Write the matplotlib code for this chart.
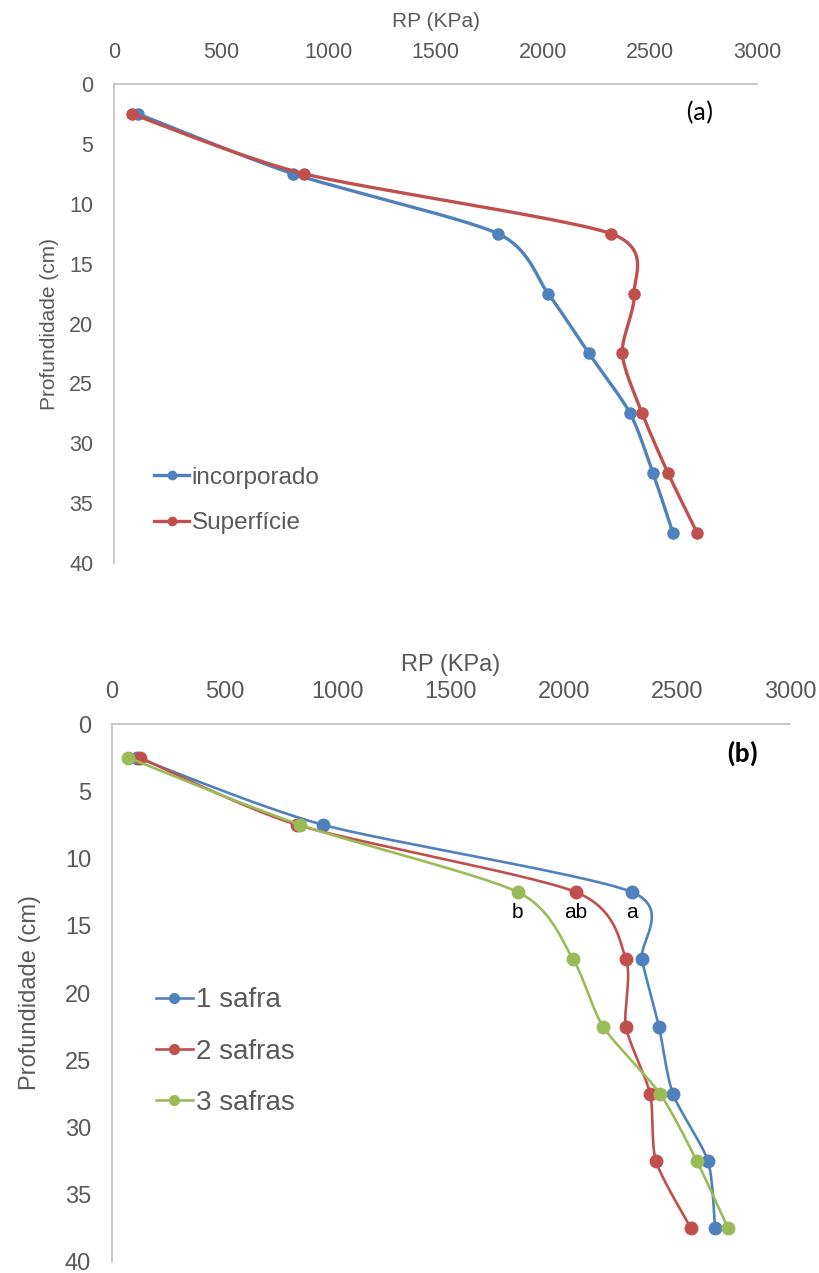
import numpy as np
import matplotlib
matplotlib.use("Agg")
import matplotlib.pyplot as plt
from matplotlib.lines import Line2D

# ---------------- data ----------------
depth = [2.5, 7.5, 12.5, 17.5, 22.5, 27.5, 32.5, 37.5]

# panel (a)
incorporado = [112, 835, 1792, 2025, 2216, 2408, 2515, 2608]
superficie = [84, 887, 2319, 2427, 2371, 2464, 2585, 2721]

# panel (b)
safra1 = [111, 934, 2301, 2345, 2420, 2482, 2637, 2668]
safra2 = [124, 819, 2053, 2274, 2274, 2381, 2407, 2562]
safra3 = [71, 832, 1796, 2040, 2173, 2425, 2588, 2726]

labels_a = ["incorporado", "Superfície"]
labels_b = ["1 safra", "2 safras", "3 safras"]
letters_b = ["a", "ab", "b"]          # letters at depth 12.5 for 1,2,3 safras

xticks = [0, 500, 1000, 1500, 2000, 2500, 3000]
yticks = [0, 5, 10, 15, 20, 25, 30, 35, 40]

BLUE = "#4F81BD"
RED = "#C0504D"
GREEN = "#9BBB59"
TXT = "#595959"
SPINE = "#BFBFBF"

plt.rcParams["font.family"] = ["Liberation Sans", "DejaVu Sans"]

W, H = 819, 1273
fig = plt.figure(figsize=(W / 100, H / 100), dpi=100)


def px_axes(l, t, r, b):
    return fig.add_axes([l / W, 1 - b / H, (r - l) / W, (b - t) / H])


def smooth(ax, xs, ys, n=30, k=8.0):
    """Excel-like smoothed curve (cubic Bezier, computed in display space)."""
    pts = ax.transData.transform(np.column_stack([xs, ys]))
    out = [pts[0]]
    m = len(pts)
    for i in range(m - 1):
        p0 = pts[i - 1] if i > 0 else pts[i]
        p1 = pts[i]
        p2 = pts[i + 1]
        p3 = pts[i + 2] if i + 2 < m else pts[i + 1]
        c1 = p1 + (p2 - p0) / k
        c2 = p2 - (p3 - p1) / k
        t = np.linspace(0, 1, n)[1:, None]
        seg = ((1 - t) ** 3) * p1 + 3 * ((1 - t) ** 2) * t * c1 + 3 * (1 - t) * t ** 2 * c2 + t ** 3 * p2
        out.extend(seg)
    out = np.array(out)
    data = ax.transData.inverted().transform(out)
    return data[:, 0], data[:, 1]


def setup(ax, fs_tick, fs_label, xpad_label, ypad_label):
    ax.set_xlim(0, 3000)
    ax.set_ylim(40, 0)
    ax.xaxis.tick_top()
    ax.xaxis.set_label_position("top")
    ax.set_xticks(xticks)
    ax.set_yticks(yticks)
    ax.tick_params(length=0, labelsize=fs_tick, labelcolor=TXT, pad=15)
    for s in ["right", "bottom"]:
        ax.spines[s].set_visible(False)
    for s in ["top", "left"]:
        ax.spines[s].set_color(SPINE)
        ax.spines[s].set_linewidth(1.2)
    ax.set_xlabel("RP (KPa)", fontsize=fs_label, color=TXT, labelpad=xpad_label)
    ax.set_ylabel("Profundidade (cm)", fontsize=fs_label, color=TXT, labelpad=ypad_label)


# ---------------- panel (a) ----------------
axa = px_axes(114, 84, 757, 563)
setup(axa, 15.5, 15, 11, 7)
handles = []
for vals, col, lab in [(incorporado, BLUE, labels_a[0]), (superficie, RED, labels_a[1])]:
    sx, sy = smooth(axa, vals, depth)
    axa.plot(sx, sy, color=col, lw=2.4, solid_capstyle="round")
    axa.plot(vals, depth, "o", color=col, ms=8)
    handles.append(Line2D([], [], color=col, lw=2.4, marker="o", ms=6))
axa.legend(handles, labels_a, loc="upper left", bbox_to_anchor=(0.047, 0.221),
           frameon=False, fontsize=17.5, labelcolor=TXT, handlelength=1.45,
           handletextpad=0.1, labelspacing=0.97, borderaxespad=0)
axa.text(0.911, 0.94, "(a)", transform=axa.transAxes, fontsize=19,
         family=["Carlito", "Liberation Sans", "DejaVu Sans"], color="black",
         ha="center", va="center")

# ---------------- panel (b) ----------------
axb = px_axes(112, 724, 790, 1262)
setup(axb, 17, 17, 7, 17)
handles = []
series_b = [(safra1, BLUE), (safra2, RED), (safra3, GREEN)]
for (vals, col), lab in zip(series_b, labels_b):
    sx, sy = smooth(axb, vals, depth)
    axb.plot(sx, sy, color=col, lw=1.9)
    axb.plot(vals, depth, "o", color=col, ms=9)
    handles.append(Line2D([], [], color=col, lw=1.9, marker="o", ms=7))
axb.legend(handles, labels_b, loc="upper left", bbox_to_anchor=(0.048, 0.531),
           frameon=False, fontsize=20, labelcolor=TXT, handlelength=1.35,
           handletextpad=0.1, labelspacing=0.91, borderaxespad=0)
for (vals, col), let in zip(series_b, letters_b):
    axb.annotate(let, (vals[2], depth[2]), xytext=(0, -15), textcoords="offset points",
                 ha="center", va="center", fontsize=15, color="black")
axb.text(0.93, 0.945, "(b)", transform=axb.transAxes, fontsize=20, fontweight="bold",
         family=["Carlito", "Liberation Sans", "DejaVu Sans"], color="black",
         ha="center", va="center")

fig.savefig("out.png", dpi=100)
